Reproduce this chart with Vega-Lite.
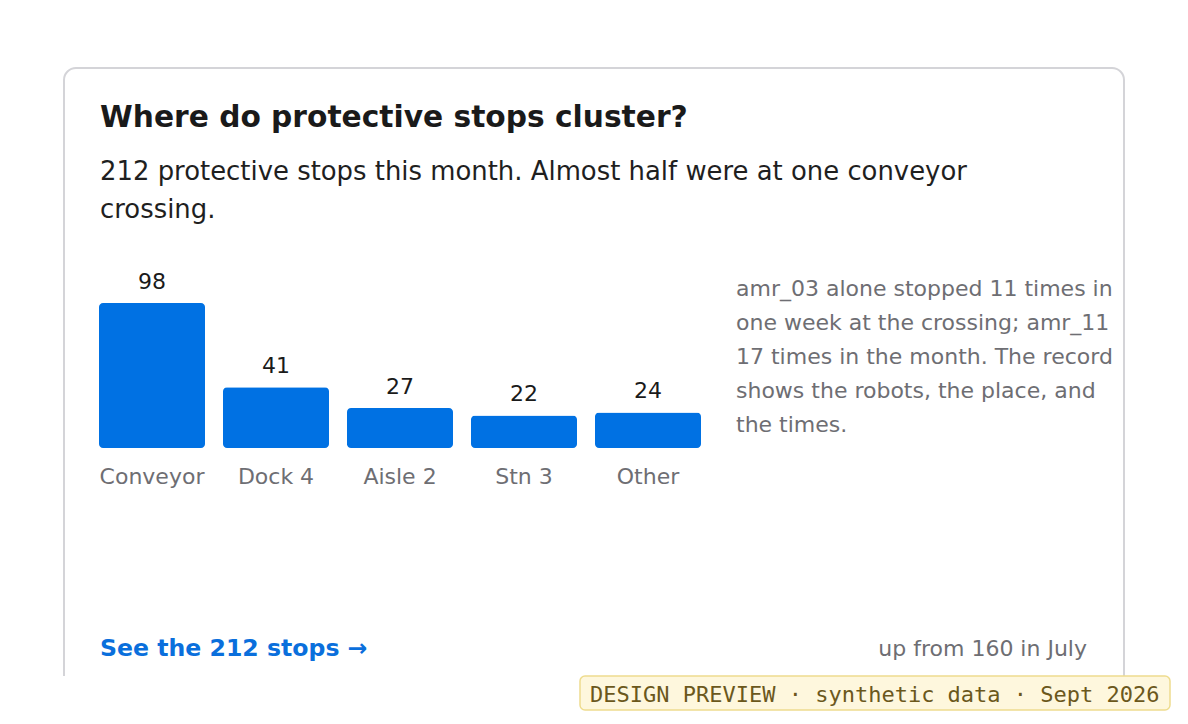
{
  "$schema": "https://vega.github.io/schema/vega-lite/v6.json",
  "width": 1060,
  "height": 656,
  "autosize": {"type": "none"},
  "padding": {"left": 64, "top": 68, "right": 64, "bottom": 0},
  "background": "white",
  "config": {
    "font": "DejaVu Sans",
    "view": {"stroke": "#d4d4d8", "strokeWidth": 2, "cornerRadius": 12, "fill": "white"}
  },
  "title": {
    "text": "Where do protective stops cluster?",
    "subtitle": ["212 protective stops this month. Almost half were at one conveyor", "crossing."],
    "anchor": "start",
    "frame": "group",
    "orient": "top",
    "dx": 36,
    "offset": -156,
    "font": "DejaVu Sans",
    "fontSize": 29.7,
    "fontWeight": "bold",
    "color": "#1a1a1a",
    "subtitleFont": "DejaVu Sans",
    "subtitleFontSize": 25.9,
    "subtitleColor": "#1f1f1f",
    "subtitleLineHeight": 38,
    "subtitlePadding": 26
  },
  "datasets": {
    "zones": [
      {"zone": "Conveyor", "stops": 98},
      {"zone": "Dock 4", "stops": 41},
      {"zone": "Aisle 2", "stops": 27},
      {"zone": "Stn 3", "stops": 22},
      {"zone": "Other", "stops": 24}
    ]
  },
  "layer": [
    {
      "data": {"name": "zones"},
      "mark": {"type": "bar", "cornerRadius": 4, "color": "#0071e3"},
      "encoding": {
        "x": {"field": "zone", "type": "nominal", "sort": null, "axis": null,
              "scale": {"range": [35, 637], "paddingInner": 0.145, "paddingOuter": 0}},
        "y": {"field": "stops", "type": "quantitative", "axis": null,
              "scale": {"domain": [0, 98], "range": [380, 235], "nice": false, "zero": true}}
      }
    },
    {
      "data": {"name": "zones"},
      "mark": {"type": "text", "baseline": "alphabetic", "dy": -14.5, "fontSize": 22, "color": "#1a1a1a"},
      "encoding": {
        "x": {"field": "zone", "type": "nominal", "sort": null},
        "y": {"field": "stops", "type": "quantitative"},
        "text": {"field": "stops", "type": "quantitative"}
      }
    },
    {
      "data": {"name": "zones"},
      "mark": {"type": "text", "baseline": "alphabetic", "dy": 36, "fontSize": 22, "color": "#6e6e73"},
      "encoding": {
        "x": {"field": "zone", "type": "nominal", "sort": null},
        "y": {"datum": 0, "type": "quantitative"},
        "text": {"field": "zone", "type": "nominal"}
      }
    },
    {
      "data": {"values": [{}]},
      "mark": {"type": "rect", "fill": "white", "stroke": null},
      "encoding": {
        "x": {"value": -64}, "x2": {"value": 1124},
        "y": {"value": 608}, "y2": {"value": 660}
      }
    },
    {
      "data": {"values": [{}]},
      "mark": {"type": "text", "align": "left", "baseline": "alphabetic", "fontSize": 22, "lineHeight": 34, "color": "#6e6e73"},
      "encoding": {
        "x": {"value": 672}, "y": {"value": 228},
        "text": {"value": ["amr_03 alone stopped 11 times in", "one week at the crossing; amr_11", "17 times in the month. The record", "shows the robots, the place, and", "the times."]}
      }
    },
    {
      "data": {"values": [{}]},
      "mark": {"type": "text", "align": "left", "baseline": "alphabetic", "fontSize": 23.6, "fontWeight": "bold", "color": "#0a6fdc"},
      "encoding": {
        "x": {"value": 36}, "y": {"value": 588},
        "text": {"value": "See the 212 stops →"}
      }
    },
    {
      "data": {"values": [{}]},
      "mark": {"type": "text", "align": "right", "baseline": "alphabetic", "fontSize": 22, "color": "#6e6e73"},
      "encoding": {
        "x": {"value": 1023}, "y": {"value": 588},
        "text": {"value": "up from 160 in July"}
      }
    },
    {
      "data": {"values": [{}]},
      "mark": {"type": "rect", "fill": "#fef7dd", "stroke": "#eedc8e", "strokeWidth": 1.5, "cornerRadius": 5},
      "encoding": {
        "x": {"value": 516}, "x2": {"value": 1106},
        "y": {"value": 608}, "y2": {"value": 642}
      }
    },
    {
      "data": {"values": [{}]},
      "mark": {"type": "text", "align": "left", "baseline": "middle", "font": "DejaVu Sans Mono", "fontSize": 22, "color": "#6b581c"},
      "encoding": {
        "x": {"value": 526}, "y": {"value": 626.5},
        "text": {"value": "DESIGN PREVIEW · synthetic data · Sept 2026"}
      }
    }
  ]
}
